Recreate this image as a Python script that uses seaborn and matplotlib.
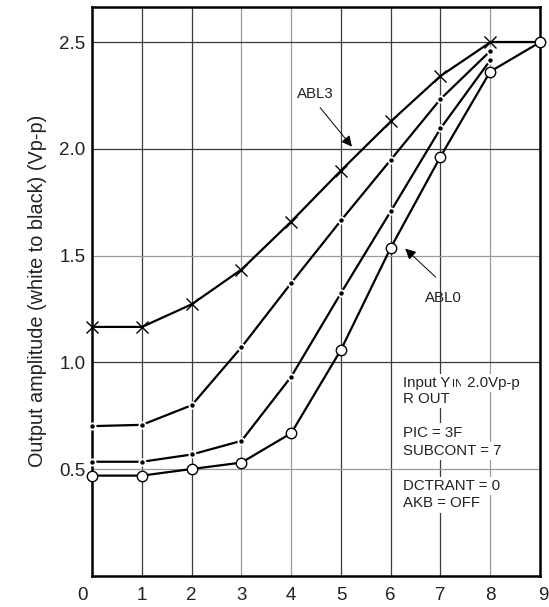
import numpy as np
import pandas as pd
import matplotlib
matplotlib.use("Agg")
import matplotlib.pyplot as plt
import matplotlib.transforms as mtransforms
import seaborn as sns

# data
x_vals = [0, 1, 2, 3, 4, 5, 6, 7, 8, 9]
abl3 = [1.166, 1.166, 1.272, 1.435, 1.660, 1.899, 2.129, 2.342, 2.5, 2.5]
mid_upper = [0.701, 0.707, 0.799, 1.071, 1.372, 1.665, 1.949, 2.234, 2.459, 2.5]
mid_lower = [0.534, 0.534, 0.568, 0.632, 0.933, 1.325, 1.708, 2.096, 2.416, 2.5]
abl0 = [0.469, 0.469, 0.500, 0.530, 0.668, 1.059, 1.537, 1.964, 2.363, 2.5]
y_ticks = [0.5, 1.0, 1.5, 2.0, 2.5]

sns.set_style("white")
plt.rcParams['font.family'] = ['Liberation Sans', 'DejaVu Sans']

fig = plt.figure(figsize=(5.49, 6.07), dpi=100)
ax = fig.add_axes([0.168, 0.0516, 0.8156, 0.9374])

# grid lines (some darker, some lighter as in the scan)
dark, light = '#3a3a3a', '#9a9a9a'
for xv in range(1, 9):
    ax.axvline(xv, color=light if xv in (3, 4, 8) else dark, lw=0.9, zorder=0)
for yv in y_ticks:
    ax.axhline(yv, color=light if yv in (0.5, 1.5) else dark, lw=0.9, zorder=0)

# curves
df3 = pd.DataFrame({'x': x_vals, 'y': abl3})
sns.lineplot(data=df3.iloc[:9], x='x', y='y', ax=ax, color='black', lw=1.6,
             marker='x', markersize=8.5, markeredgewidth=1.0, markeredgecolor='black',
             clip_on=False, zorder=3)
sns.lineplot(data=df3.iloc[8:], x='x', y='y', ax=ax, color='black', lw=1.6,
             clip_on=False, zorder=3)

for vals in (mid_upper, mid_lower):
    d = pd.DataFrame({'x': x_vals[:9], 'y': vals[:9]})
    sns.lineplot(data=d, x='x', y='y', ax=ax, color='black', lw=1.6,
                 marker='o', markersize=4.5, markerfacecolor='black',
                 markeredgecolor='white', markeredgewidth=1.3,
                 clip_on=False, zorder=4)

d0 = pd.DataFrame({'x': x_vals, 'y': abl0})
sns.lineplot(data=d0, x='x', y='y', ax=ax, color='black', lw=1.6,
             marker='o', markersize=7.5, markerfacecolor='white',
             markeredgecolor='black', markeredgewidth=1.0,
             clip_on=False, zorder=5)

ax.set_xlim(0, 9)
ax.set_ylim(0, 2.667)
ax.set_xticks(x_vals)
ax.set_yticks(y_ticks)
ax.set_yticklabels([f"{v:.1f}" for v in y_ticks])
ax.tick_params(axis='both', length=0, labelsize=13.5, colors='#222222')
ax.tick_params(axis='x', pad=8)
ax.tick_params(axis='y', pad=5)
ax.set_xlabel('')
ax.set_ylabel('Output amplitude (white to black) (Vp-p)', fontsize=14.3,
              color='#222222', labelpad=9)

# nudge the end labels like in the reference
xl = ax.get_xticklabels()
xl[0].set_transform(xl[0].get_transform() + mtransforms.ScaledTranslation(-0.10, 0, fig.dpi_scale_trans))
xl[-1].set_transform(xl[-1].get_transform() + mtransforms.ScaledTranslation(0.03, 0, fig.dpi_scale_trans))

for sp in ax.spines.values():
    sp.set_visible(True)
    sp.set_color('black')
    sp.set_linewidth(1.8)

# curve labels with arrows
arrow = dict(arrowstyle='-|>', color='black', lw=0.7, mutation_scale=16,
             shrinkA=0, shrinkB=0)
ax.text(4.48, 2.26, 'ABL3', fontsize=10.8, ha='center', va='center', color='#222222')
ax.annotate('', xy=(5.22, 2.011), xytext=(4.58, 2.194), arrowprops=arrow)
ax.text(7.06, 1.30, 'ABL0', fontsize=10.8, ha='center', va='center', color='#222222')
ax.annotate('', xy=(6.29, 1.533), xytext=(6.90, 1.40), arrowprops=arrow)

# condition notes
box = dict(facecolor='white', edgecolor='none', pad=1.5)
fs = 10.8
t2_box = dict(facecolor='white', edgecolor='none', pad=0.3)
t1 = ax.text(6.25, 0.886, 'Input Y', fontsize=fs, va='baseline', ha='left', bbox=box,
             color='#222222', zorder=6)
t2 = ax.annotate('IN', xy=(1, 0.886), xycoords=(t1, 'data'), xytext=(1.0, 0), textcoords='offset points',
                 fontsize=fs * 0.75, va='baseline', ha='left', bbox=t2_box, color='#222222', zorder=5)
ax.annotate(' 2.0Vp-p', xy=(1, 0.886), xycoords=(t2, 'data'), xytext=(0, 0), textcoords='offset points',
            fontsize=fs, va='baseline', ha='left', bbox=box, color='#222222', zorder=5)
notes = [('R OUT', 0.811), ('PIC = 3F', 0.652), ('SUBCONT = 7', 0.567),
         ('DCTRANT = 0', 0.403), ('AKB = OFF', 0.320)]
for txt, yv in notes:
    ax.text(6.25, yv, txt, fontsize=fs, va='baseline', ha='left', bbox=box, color='#222222')

fig.savefig('out.png', dpi=100)
